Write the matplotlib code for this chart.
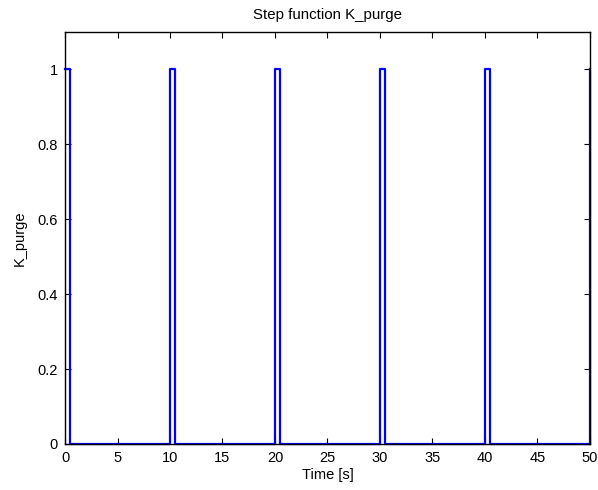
import matplotlib
matplotlib.use("Agg")
import matplotlib.pyplot as plt

# switching times [s] and K_purge values (step, held until next switch)
t_switch = [0, 0.5, 10, 10.5, 20, 20.5, 30, 30.5, 40, 40.5, 50]
k_values = [1, 0, 1, 0, 1, 0, 1, 0, 1, 0, 1]
x_ticks = [0, 5, 10, 15, 20, 25, 30, 35, 40, 45, 50]
y_ticks = [0, 0.2, 0.4, 0.6, 0.8, 1]
y_tick_labels = ["0", "0.2", "0.4", "0.6", "0.8", "1"]

plt.rcParams['font.family'] = ['Liberation Sans', 'DejaVu Sans']

fig = plt.figure(figsize=(5.98, 4.90), dpi=100)
ax = fig.add_axes([0.1087, 0.0939, 0.8779, 0.8408])

ax.plot(t_switch, k_values, drawstyle='steps-post', color=(0, 0, 1), lw=1.6, clip_on=False)

ax.set_xlim(0, 50)
ax.set_ylim(0, 1.1)
ax.set_xticks(x_ticks)
ax.set_xticklabels([str(v) for v in x_ticks])
ax.set_yticks(y_ticks)
ax.set_yticklabels(y_tick_labels)
ax.tick_params(direction='in', length=4, width=0.8, top=True, right=True,
               labelsize=10.5, pad=5, colors='black')
for s in ax.spines.values():
    s.set_linewidth(1.0)
    s.set_color('black')

ax.set_title("Step function K_purge", fontsize=10.8, pad=9)
ax.set_xlabel("Time [s]", fontsize=10.5, labelpad=2)
ax.set_ylabel("K_purge", fontsize=10.5, labelpad=8)

fig.savefig("out.png", dpi=100)
